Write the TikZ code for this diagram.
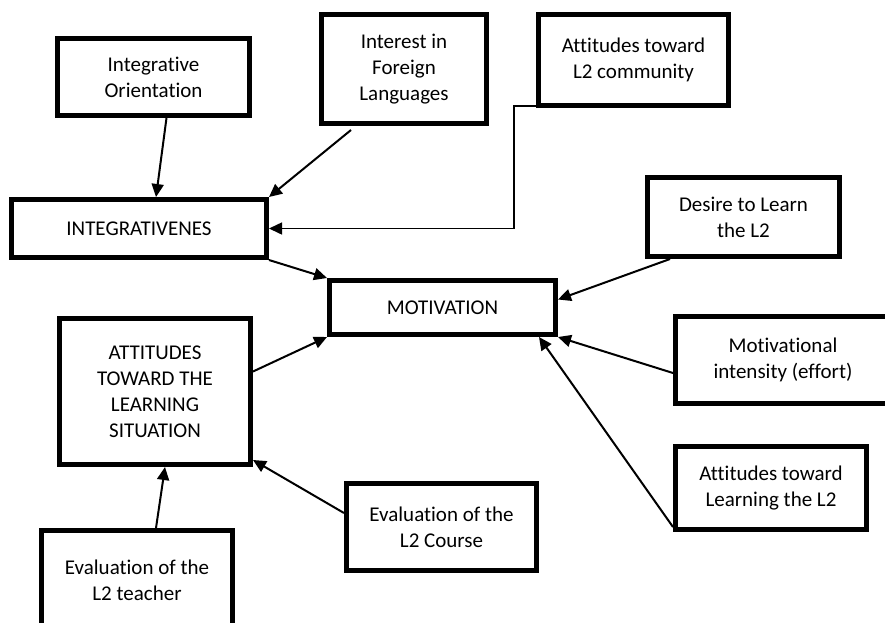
\documentclass[tikz,border=0pt]{standalone}
\usepackage{fontspec}
\setmainfont{Carlito}[Ligatures=NoCommon, Contextuals=NoAlternate]
\usetikzlibrary{arrows.meta}

\begin{document}
\begin{tikzpicture}[x=1pt,y=-1pt]
\tikzstyle{every node}+=[inner sep=0pt]
\tikzstyle{box}=[draw, line width=5pt, align=center, font=\fontsize{21}{26}\selectfont]
\tikzstyle{link}=[line width=2pt, -{Triangle[length=13pt,width=12pt]}]
\tikzstyle{thin link}=[line width=1.5pt, -{Triangle[length=13pt,width=12pt]}]
\useasboundingbox (0,0) rectangle (885,622);
\node [box, minimum width=192pt, minimum height=77pt] (orient) at (153.5,77) {Integrative\\Orientation};
\node [box, minimum width=165pt, minimum height=109pt] (interest) at (404,69) {Interest in\\Foreign\\Languages};
\node [box, minimum width=190pt, minimum height=91pt] (community) at (633.5,60) {Attitudes toward\\L2 community};
\node [box, minimum width=255pt, minimum height=58pt] (integ) at (139,228.5) {INTEGRATIVENES};
\node [box, minimum width=192pt, minimum height=79pt] (desire) at (743.5,217) {Desire to Learn\\the L2};
\node [box, minimum width=226pt, minimum height=54pt] (motiv) at (442.5,307.5) {MOTIVATION};
\node [box, minimum width=191pt, minimum height=146pt] (situation) at (155,391.5) {ATTITUDES\\TOWARD THE\\LEARNING\\SITUATION};
\node [box, minimum width=215pt, minimum height=87pt] (intensity) at (783,360) {Motivational\\intensity (effort)};
\node [box, minimum width=191pt, minimum height=83pt] (learning) at (771,488) {Attitudes toward\\Learning the L2};
\node [box, minimum width=190pt, minimum height=87pt] (course) at (441.5,527) {Evaluation of the\\L2 Course};
\node [box, minimum width=191pt, minimum height=100pt] (teacher) at (137,580.5) {Evaluation of the\\L2 teacher};
\draw [link] ([xshift=13pt]orient.south) -- ([xshift=17pt]integ.north);
\draw [link] ([xshift=-53pt,yshift=-4pt]interest.south) -- (integ.north east);
\draw [thin link] ([yshift=2pt]community.south west) -- ++(-22,0) |- (integ.east);
\draw [link] (integ.south east) -- (motiv.north west);
\draw [link] ([xshift=-73.5pt]desire.south) -- ([yshift=8pt]motiv.east);
\draw [link] ([yshift=20pt]situation.east) -- (motiv.south west);
\draw [link] ([yshift=-13pt]intensity.west) -- (motiv.south east);
\draw [link] ([yshift=5pt]learning.south west) -- ([xshift=-19pt]motiv.south east);
\draw [link] ([xshift=19pt]teacher.north) -- ([xshift=10pt]situation.south);
\draw [link] ([yshift=14pt]course.west) -- ([yshift=7pt]situation.south east);
\end{tikzpicture}
\end{document}
